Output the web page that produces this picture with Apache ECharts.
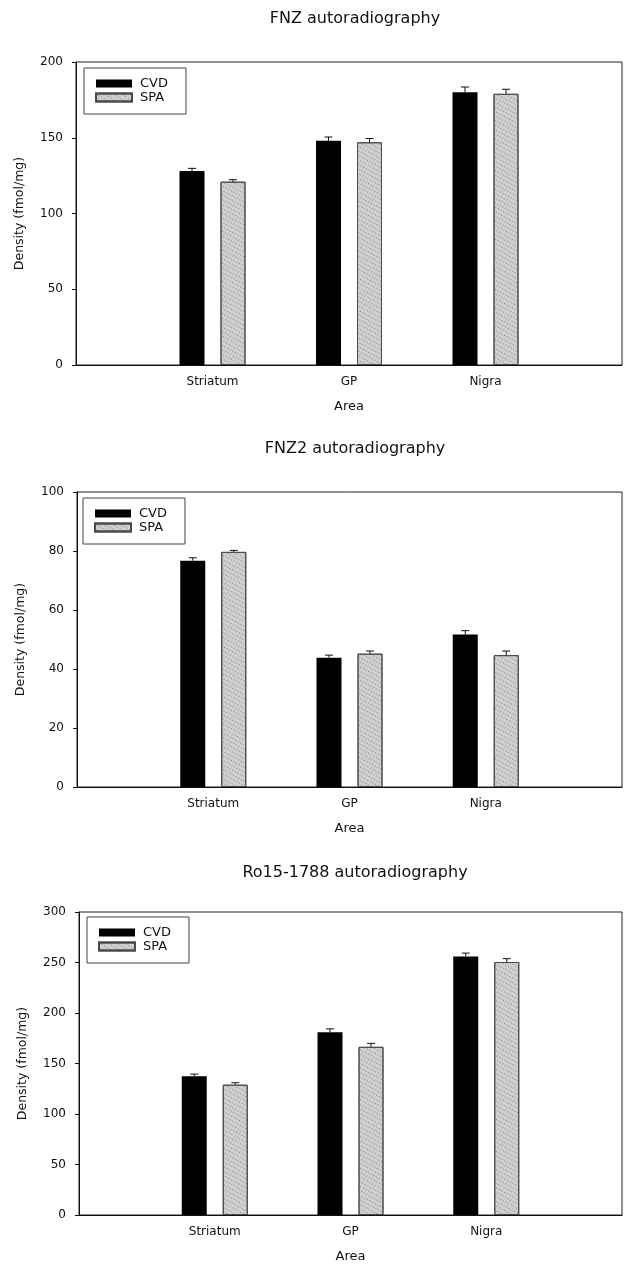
<!DOCTYPE html>
<html>
<head>
<meta charset="utf-8">
<script src="https://cdn.jsdelivr.net/npm/echarts@6/dist/echarts.min.js"></script>
<style>html,body{margin:0;padding:0;background:#fff}#c{width:625px;height:1265px}</style>
</head>
<body>
<div id="c"></div>
<script>
// ---- data ----
const areas = ['Striatum', 'GP', 'Nigra'];
const seriesNames = ['CVD', 'SPA'];
const titles = ['FNZ autoradiography', 'FNZ2 autoradiography', 'Ro15-1788 autoradiography'];
const yMax = [200, 100, 300];
const yStep = [50, 20, 50];
// FNZ
const fnzCVD = [128, 148, 180];
const fnzCVDErr = [1.8, 2.5, 3.5];
const fnzSPA = [121, 147, 179];
const fnzSPAErr = [1.3, 2.5, 3];
// FNZ2
const fnz2CVD = [76.7, 43.8, 51.7];
const fnz2CVDErr = [1, 0.9, 1.3];
const fnz2SPA = [79.7, 45.2, 44.7];
const fnz2SPAErr = [0.5, 0.9, 1.4];
// Ro15-1788
const roCVD = [137.5, 181, 256];
const roCVDErr = [2, 3.3, 3.3];
const roSPA = [129, 166.5, 250.5];
const roSPAErr = [2, 3.4, 3.3];

const panelVals = [[fnzCVD, fnzSPA], [fnz2CVD, fnz2SPA], [roCVD, roSPA]];
const panelErrs = [[fnzCVDErr, fnzSPAErr], [fnz2CVDErr, fnz2SPAErr], [roCVDErr, roSPAErr]];

// ---- layout ----
const FONT = 'DejaVu Sans';
const grids = [
  {left: 76, right: 0, top: 62, bottom: 900},
  {left: 77, right: 2, top: 492, bottom: 478},
  {left: 79, right: 2, top: 912, bottom: 50}
];
const titleTops = [6, 436, 860];
const legendPos = [{left: 84, top: 68}, {left: 83, top: 498}, {left: 87, top: 917}];
const catData = [''].concat(areas, ['']);
const BAR_W = 25, HALF_OFF = 20.5, CAP = 8;
const fills = ['#000000', '#cfcfcf'];
const borders = ['#000000', '#4a4a4a'];

const option = {
  backgroundColor: '#ffffff',
  animation: false,
  title: [], grid: [], xAxis: [], yAxis: [], legend: [], series: []
};

for (let p = 0; p < 3; p++) {
  option.title.push({
    text: titles[p], left: 350, top: titleTops[p], textAlign: 'center',
    textStyle: {fontFamily: FONT, fontSize: 16, fontWeight: 'normal', color: '#111'}
  });
  option.grid.push(Object.assign({show: true, borderColor: '#222', borderWidth: 1, backgroundColor: 'transparent'}, grids[p]));
  option.xAxis.push({
    type: 'category', gridIndex: p, data: catData, boundaryGap: false,
    name: 'Area', nameLocation: 'middle', nameGap: 35,
    nameTextStyle: {fontFamily: FONT, fontSize: 13, color: '#111'},
    axisLine: {lineStyle: {color: '#111', width: 1}},
    axisTick: {show: false},
    axisLabel: {fontFamily: FONT, fontSize: 12, color: '#111', margin: 11, interval: 0},
    splitLine: {show: false}
  });
  option.yAxis.push({
    type: 'value', gridIndex: p, min: 0, max: yMax[p], interval: yStep[p],
    name: 'Density (fmol/mg)', nameLocation: 'middle', nameGap: 50,
    nameTextStyle: {fontFamily: FONT, fontSize: 12.5, color: '#111'},
    axisLine: {show: true, lineStyle: {color: '#111', width: 1}},
    axisTick: {show: true, inside: false, length: 4, lineStyle: {color: '#111'}},
    axisLabel: {fontFamily: FONT, fontSize: 12, color: '#111', margin: 13},
    splitLine: {show: false}
  });
  option.legend.push(Object.assign({
    orient: 'vertical', data: seriesNames, icon: 'rect',
    itemWidth: 36, itemHeight: 8, itemGap: 1,
    padding: [9, 18, 10, 11],
    borderColor: '#444', borderWidth: 1, backgroundColor: '#fff',
    textStyle: {fontFamily: FONT, fontSize: 13, color: '#111', padding: [0, 0, 0, 3]},
    selectedMode: false
  }, legendPos[p]));

  for (let s = 0; s < 2; s++) {
    const vals = panelVals[p][s];
    option.series.push({
      type: 'bar', name: seriesNames[s], xAxisIndex: p, yAxisIndex: p,
      data: ['-'].concat(vals, ['-']),
      barWidth: BAR_W, barGap: '64%',
      itemStyle: {color: fills[s], borderColor: borders[s], borderWidth: s === 1 ? 1 : 0,
        decal: s === 1 ? {symbol: 'rect', symbolSize: 1, color: 'rgba(80,80,80,0.6)', dashArrayX: [1, 2], dashArrayY: [1, 3], rotation: 0.5} : null},
      emphasis: {disabled: true}, z: 2
    });
  }
  // error bars (upper only)
  for (let s = 0; s < 2; s++) {
    const vals = panelVals[p][s], errs = panelErrs[p][s];
    const dir = s === 0 ? -1 : 1;
    option.series.push({
      type: 'custom', xAxisIndex: p, yAxisIndex: p, silent: true, z: 3,
      data: vals.map((v, i) => [i + 1, v, v + errs[i]]),
      renderItem: function (params, api) {
        const base = api.coord([api.value(0), api.value(1)]);
        const top = api.coord([api.value(0), api.value(2)]);
        const x = base[0] + dir * HALF_OFF;
        return {
          type: 'group',
          children: [
            {type: 'line', shape: {x1: x, y1: base[1], x2: x, y2: top[1]}, style: {stroke: '#111', lineWidth: 1}},
            {type: 'line', shape: {x1: x - CAP / 2, y1: top[1], x2: x + CAP / 2, y2: top[1]}, style: {stroke: '#111', lineWidth: 1}}
          ]
        };
      }
    });
  }
}

const chart = echarts.init(document.getElementById('c'), null, {renderer: 'canvas'});
chart.setOption(option);
</script>
</body>
</html>
